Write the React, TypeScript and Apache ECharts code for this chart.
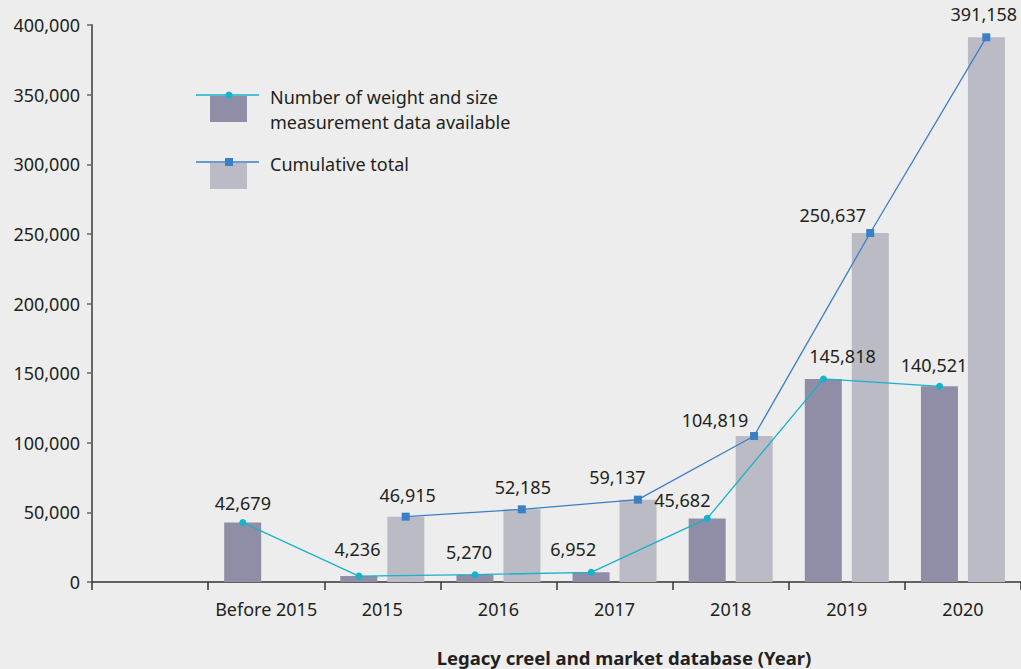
import React, { useEffect, useRef } from "react";
import * as echarts from "echarts";

const categories = ["", "Before 2015", "2015", "2016", "2017", "2018", "2019", "2020"];
const annualCounts: (number | null)[] = [null, 42679, 4236, 5270, 6952, 45682, 145818, 140521];
const cumulativeTotals: (number | null)[] = [null, null, 46915, 52185, 59137, 104819, 250637, 391158];
const yTicks = [0, 50000, 100000, 150000, 200000, 250000, 300000, 350000, 400000];
const legendNames = ["Number of weight and size\nmeasurement data available", "Cumulative total"];
const xAxisTitle = "Legacy creel and market database (Year)";

// label nudges (dx, dy from the point centre), styling only
const annualLabelNudge = [[0, 0], [0, -20], [-1.5, -27], [-6, -23], [-18, -23], [-25, -18], [19, -22.5], [-5.5, -21.5]];
const cumulativeLabelNudge = [[0, 0], [0, 0], [2, -22], [1, -22.5], [-20.5, -22.5], [-39, -16], [-37.5, -18], [-2.5, -23]];

const DARK = "#8f8ea6";
const LIGHT = "#bbbbc5";
const CYAN = "#17b2cb";
const BLUE = "#3b7fc6";
const TEXT = "#231f20";
const FONT = "Noto Sans";

const GRID_LEFT = 92;
const GRID_TOP = 25;
const GRID_W = 934;
const GRID_H = 557;
const BAR_W = 37;
const BAR_GAP = 10;

const fmt = (v: number) => v.toLocaleString("en-US");

export default function App() {
  const ref = useRef<HTMLDivElement>(null);
  useEffect(() => {
    if (!ref.current) return;
    const chart = echarts.init(ref.current, undefined, { renderer: "svg" });
    const band = GRID_W / categories.length;
    const off = (BAR_W + BAR_GAP) / 2 / band;

    const mkLine = (
      vals: (number | null)[],
      shift: number,
      nudges: number[][],
      symbol: string,
      size: number,
      color: string,
      name: string
    ) => ({
      type: "line",
      name,
      xAxisIndex: 1,
      yAxisIndex: 0,
      z: 5,
      symbol,
      symbolSize: size,
      lineStyle: { color, width: 1.3 },
      itemStyle: { color },
      data: vals
        .map((v, i) => ({ v, i }))
        .filter((d) => d.v !== null)
        .map(({ v, i }) => ({
          value: [i + 0.5 + shift, v],
          label: {
            show: true,
            position: "top",
            distance: 0,
            offset: [nudges[i][0], nudges[i][1] + size / 2 + 9],
            formatter: () => fmt(v as number),
            color: TEXT,
            fontSize: 18,
            lineHeight: 18,
            fontFamily: FONT,
          },
        })),
    });

    const legendItem = (y: number, color: string, swatch: string, square: boolean, text: string) => [
      { type: "rect", shape: { x: 210, y: y + 1, width: 37, height: 26 }, style: { fill: swatch } },
      { type: "line", shape: { x1: 196, y1: y, x2: 259, y2: y }, style: { stroke: color, lineWidth: 1.3 } },
      square
        ? { type: "rect", shape: { x: 225, y: y - 4, width: 8, height: 8 }, style: { fill: color } }
        : { type: "circle", shape: { cx: 229, cy: y, r: 3.5 }, style: { fill: color } },
      {
        type: "text",
        x: 270,
        y: y - 11,
        style: { text, fill: TEXT, font: `18px "${FONT}"`, lineHeight: 25, verticalAlign: "top" },
      },
    ];

    chart.setOption({
      animation: false,
      backgroundColor: "#ededed",
      grid: { left: GRID_LEFT, top: GRID_TOP, width: GRID_W, height: GRID_H, containLabel: false },
      xAxis: [
        {
          type: "category",
          data: categories,
          axisLine: { lineStyle: { color: "#333", width: 1.5 } },
          axisTick: { show: true, length: 8, interval: 0, lineStyle: { color: "#333", width: 1.5 } },
          axisLabel: { color: TEXT, fontSize: 18, fontFamily: FONT, margin: 18, interval: 0 },
          splitLine: { show: false },
        },
        { type: "value", min: 0, max: categories.length, show: false },
      ],
      yAxis: {
        type: "value",
        min: yTicks[0],
        max: yTicks[yTicks.length - 1],
        interval: yTicks[1] - yTicks[0],
        axisLine: { show: true, lineStyle: { color: "#666", width: 2 } },
        axisTick: { show: true, length: 5, lineStyle: { color: "#666", width: 1.5 } },
        axisLabel: { color: TEXT, fontSize: 18, fontFamily: FONT, margin: 12, formatter: (v: number) => fmt(v) },
        splitLine: { show: false },
      },
      series: [
        {
          type: "bar",
          name: "annual-bar",
          data: annualCounts.map((v) => (v === null ? "-" : v)),
          barWidth: BAR_W,
          barGap: `${(BAR_GAP / BAR_W) * 100}%`,
          itemStyle: { color: DARK },
        },
        {
          type: "bar",
          name: "cumulative-bar",
          data: cumulativeTotals.map((v) => (v === null ? "-" : v)),
          barWidth: BAR_W,
          itemStyle: { color: LIGHT },
        },
        mkLine(cumulativeTotals, off, cumulativeLabelNudge, "rect", 8, BLUE, "Cumulative total"),
        mkLine(annualCounts, -off, annualLabelNudge, "circle", 7, CYAN, "Number of weight and size measurement data available"),
      ],
      graphic: [
        ...legendItem(95, CYAN, DARK, false, legendNames[0]),
        ...legendItem(162, BLUE, LIGHT, true, legendNames[1]),
        {
          type: "text",
          x: 624,
          y: 657,
          style: {
            text: xAxisTitle,
            fill: TEXT,
            font: `bold 18.5px "${FONT}"`,
            align: "center",
            verticalAlign: "middle",
          },
        },
      ],
    });
    return () => chart.dispose();
  }, []);
  return <div ref={ref} style={{ position: "absolute", left: 0, top: 0, width: 1021, height: 669 }} />;
}
